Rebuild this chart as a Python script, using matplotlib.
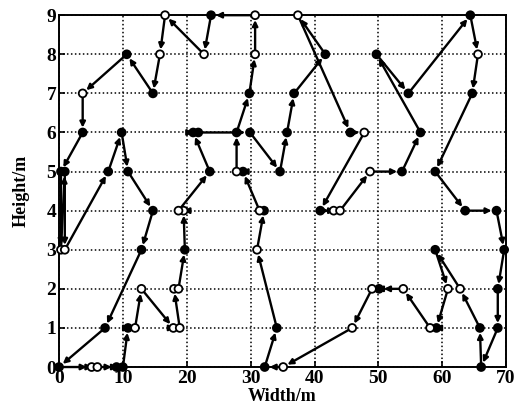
import matplotlib
matplotlib.use("Agg")
import matplotlib.pyplot as plt

# Tour points in travel order (x in m, y in m) and whether the marker is open
tour_x = [0, 5.1, 6.0, 9.0, 10.0, 10.8, 11.9, 12.9, 17.9, 18.9, 18.0, 18.7, 19.7, 19.5, 18.7,
          23.6, 21.0, 21.8, 29.9, 34.6, 35.7, 36.8, 41.7, 37.4, 45.6, 47.8, 40.9, 43.0, 44.0,
          48.7, 53.7, 56.6, 49.7, 54.7, 64.4, 65.6, 64.7, 58.9, 63.6, 68.5, 69.7, 68.7, 68.7,
          66.1, 65.9, 62.8, 58.9, 60.9, 59.1, 58.1, 53.9, 50.1, 49.0, 45.9, 35.1, 32.2, 34.1,
          31.0, 32.1, 31.4, 28.8, 27.8, 27.8, 29.8, 30.7, 30.7, 23.8, 22.7, 16.6, 15.8, 14.7,
          10.6, 3.7, 3.7, 0.3, 0.3, 0.9, 0.9, 7.7, 9.8, 10.8, 14.7, 12.9, 7.2]
tour_y = [0, 0, 0, 0, 0, 1, 1, 2, 1, 1, 2, 2, 3, 4, 4,
          5, 6, 6, 6, 5, 6, 7, 8, 9, 6, 6, 4, 4, 4,
          5, 5, 6, 8, 7, 9, 8, 7, 5, 4, 4, 3, 2, 1,
          0, 1, 2, 3, 2, 1, 1, 2, 2, 2, 1, 0, 0, 1,
          3, 4, 4, 5, 5, 6, 7, 8, 9, 9, 8, 9, 8, 7,
          8, 7, 6, 5, 3, 5, 3, 5, 6, 5, 4, 3, 1]
tour_open = [0, 1, 1, 0, 0, 0, 1, 1, 1, 1, 1, 1, 0, 1, 1,
             0, 0, 0, 0, 0, 0, 0, 0, 1, 0, 1, 0, 1, 1,
             1, 0, 0, 0, 0, 0, 1, 0, 0, 0, 0, 0, 0, 0,
             0, 0, 1, 0, 1, 0, 1, 1, 0, 1, 1, 1, 0, 0,
             1, 0, 1, 0, 1, 0, 0, 1, 1, 0, 1, 1, 1, 0,
             0, 1, 0, 0, 1, 0, 1, 0, 0, 0, 0, 0, 0]

x_ticks = [0, 10, 20, 30, 40, 50, 60, 70]
y_ticks = [0, 1, 2, 3, 4, 5, 6, 7, 8, 9]

plt.rcParams['font.family'] = ['Liberation Serif', 'DejaVu Serif']
plt.rcParams['font.weight'] = 'bold'

fig = plt.figure(figsize=(5.18, 4.11), dpi=100)
ax = fig.add_axes([0.114, 0.107, 0.863, 0.856])

n = len(tour_x)
for i in range(n):
    j = (i + 1) % n
    ax.annotate('', xy=(tour_x[j], tour_y[j]), xytext=(tour_x[i], tour_y[i]),
                arrowprops=dict(arrowstyle='-|>', color='black', lw=1.7,
                                shrinkA=0, shrinkB=3.5, mutation_scale=8),
                zorder=3)

fc = ['white' if o else 'black' for o in tour_open]
ax.scatter(tour_x, tour_y, s=32, facecolors=fc, edgecolors='black', linewidths=1.3, zorder=4,
           clip_on=False)

ax.set_xlim(0, 70)
ax.set_ylim(0, 9)
ax.set_xticks(x_ticks)
ax.set_yticks(y_ticks)
ax.grid(True, color='black', linestyle=(0, (1, 1.6)), linewidth=1.1)
ax.set_axisbelow(True)
ax.tick_params(direction='in', labelsize=14, length=4, width=1.2, pad=2)
for lab in ax.get_xticklabels() + ax.get_yticklabels():
    lab.set_fontweight('bold')
for s in ax.spines.values():
    s.set_linewidth(1.4)
ax.set_xlabel('Width/m', fontsize=13, fontweight='bold', labelpad=1)
ax.set_ylabel('Height/m', fontsize=13, fontweight='bold', labelpad=12)

fig.savefig('out.png', dpi=100)
